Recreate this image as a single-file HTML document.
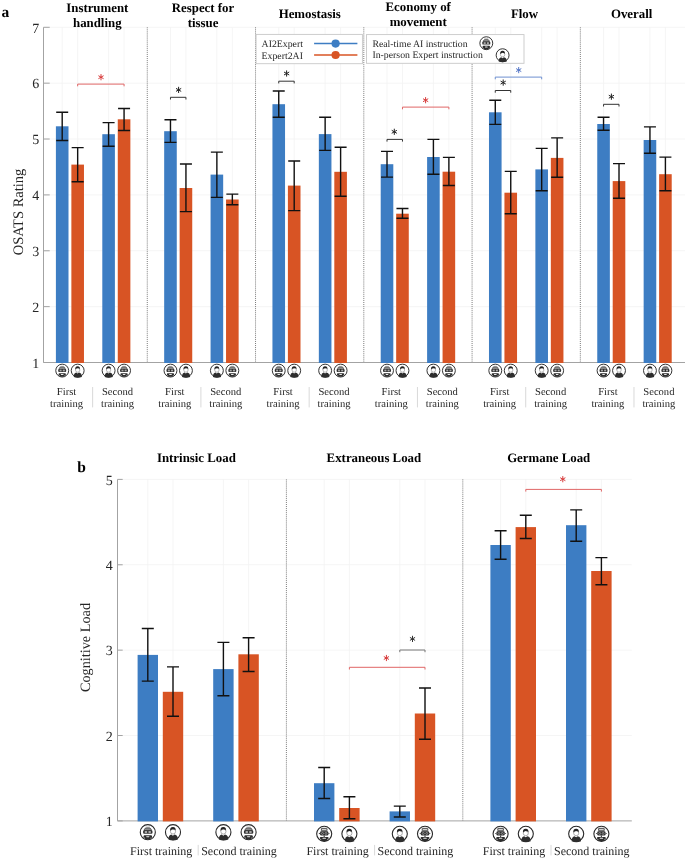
<!DOCTYPE html>
<html><head><meta charset="utf-8"><title>Figure</title>
<style>html,body{margin:0;padding:0;background:#fff;width:685px;height:860px;overflow:hidden}svg{display:block;will-change:transform}text{font-family:"Liberation Serif",serif;text-rendering:geometricPrecision}</style>
</head><body>
<svg width="685" height="860" viewBox="0 0 685 860" font-family="Liberation Serif, serif">
<defs>
<symbol id="robot" viewBox="-8 -8 16 16">
 <circle cx="0" cy="0" r="6.45" fill="#fff" stroke="#2a2a2a" stroke-width="0.95"/>
 <rect x="-1.9" y="-4.7" width="3.8" height="0.7" fill="#9a9a9a"/>
 <path d="M-2.9 -1.0 V-2.5 Q-2.9 -3.7 0 -3.7 Q2.9 -3.7 2.9 -2.5 V-1.0 Z" fill="#8a8a8a" stroke="#333" stroke-width="0.6"/>
 <rect x="-4.0" y="-1.6" width="8.0" height="3.0" rx="0.9" fill="#303030"/>
 <rect x="-2.6" y="-1.0" width="2.0" height="1.8" fill="#a8a8a8"/>
 <rect x="0.6" y="-1.0" width="2.0" height="1.8" fill="#a8a8a8"/>
 <path d="M-3.6 5.5 V3.4 Q-3.6 2.6 -2.8 2.6 H2.8 Q3.6 2.6 3.6 3.4 V5.5 Q0 6.9 -3.6 5.5Z" fill="#2d2d2d"/>
 <rect x="-1.35" y="3.4" width="2.7" height="0.95" rx="0.35" fill="#e8e8e8"/>
 <circle cx="-2.75" cy="4.95" r="0.45" fill="#ddd"/>
 <circle cx="2.75" cy="4.95" r="0.45" fill="#ddd"/>
</symbol>
<symbol id="robot2" viewBox="-8 -8 16 16">
 <circle cx="0" cy="0" r="6.45" fill="#fff" stroke="#2a2a2a" stroke-width="0.95"/>
 <rect x="-2.4" y="-4.7" width="4.8" height="2.1" rx="0.3" fill="#d0d0d0" stroke="#2a2a2a" stroke-width="0.7"/>
 <path d="M-4.9 -0.3 L-3.6 -1.0 V0.4 Z M4.9 -0.3 L3.6 -1.0 V0.4 Z" fill="#333"/>
 <rect x="-3.5" y="-2.2" width="7.0" height="3.6" rx="1.0" fill="#2e2e2e"/>
 <circle cx="-1.45" cy="-0.35" r="0.85" fill="none" stroke="#bbb" stroke-width="0.5"/>
 <circle cx="1.5" cy="-0.35" r="0.85" fill="none" stroke="#bbb" stroke-width="0.5"/>
 <rect x="-0.5" y="1.3" width="1.0" height="1.4" fill="#444"/>
 <path d="M-3.7 5.6 V3.3 Q-3.7 2.6 -3.0 2.6 H3.0 Q3.7 2.6 3.7 3.3 V5.6 Q0 7.0 -3.7 5.6Z" fill="#2d2d2d"/>
 <rect x="-1.5" y="3.4" width="3.0" height="0.85" rx="0.35" fill="#e8e8e8"/>
 <circle cx="-3.0" cy="4.7" r="0.45" fill="#ddd"/>
 <circle cx="3.0" cy="4.7" r="0.45" fill="#ddd"/>
</symbol>
<symbol id="person" viewBox="-8 -8 16 16">
 <circle cx="0" cy="0" r="6.45" fill="#fff" stroke="#2a2a2a" stroke-width="0.95"/>
 <path d="M-3.9 6.3 Q-3.9 2.4 -1.4 2.0 L-0.1 3.0 L1.3 2.0 Q4.2 2.4 4.2 6.3 Q0 7.9 -3.9 6.3Z" fill="#2d2d2d"/>
 <ellipse cx="0" cy="-0.6" rx="2.2" ry="2.2" fill="#fff" stroke="#666" stroke-width="0.45"/>
 <path d="M-2.4 -0.9 Q-2.9 -4.5 0 -4.45 Q2.6 -4.45 2.3 -1.2 Q1.9 -2.4 0.7 -2.3 Q-0.5 -2.7 -1.4 -2.0 Q-2.0 -1.6 -2.4 -0.9Z" fill="#232323"/>
</symbol>
</defs>
<rect width="685" height="860" fill="#fff"/>
<line x1="43.5" y1="306.63" x2="685" y2="306.63" stroke="#f2f2f2" stroke-width="0.8"/>
<line x1="43.5" y1="250.77" x2="685" y2="250.77" stroke="#f2f2f2" stroke-width="0.8"/>
<line x1="43.5" y1="194.9" x2="685" y2="194.9" stroke="#f2f2f2" stroke-width="0.8"/>
<line x1="43.5" y1="139.03" x2="685" y2="139.03" stroke="#f2f2f2" stroke-width="0.8"/>
<line x1="43.5" y1="83.17" x2="685" y2="83.17" stroke="#f2f2f2" stroke-width="0.8"/>
<line x1="43.5" y1="27.3" x2="685" y2="27.3" stroke="#f2f2f2" stroke-width="0.8"/>
<line x1="62.2" y1="27.3" x2="62.2" y2="362.5" stroke="#f2f2f2" stroke-width="0.8"/>
<line x1="77.67" y1="27.3" x2="77.67" y2="362.5" stroke="#f2f2f2" stroke-width="0.8"/>
<line x1="108.6" y1="27.3" x2="108.6" y2="362.5" stroke="#f2f2f2" stroke-width="0.8"/>
<line x1="124.07" y1="27.3" x2="124.07" y2="362.5" stroke="#f2f2f2" stroke-width="0.8"/>
<line x1="170.47" y1="27.3" x2="170.47" y2="362.5" stroke="#f2f2f2" stroke-width="0.8"/>
<line x1="185.94" y1="27.3" x2="185.94" y2="362.5" stroke="#f2f2f2" stroke-width="0.8"/>
<line x1="216.87" y1="27.3" x2="216.87" y2="362.5" stroke="#f2f2f2" stroke-width="0.8"/>
<line x1="232.34" y1="27.3" x2="232.34" y2="362.5" stroke="#f2f2f2" stroke-width="0.8"/>
<line x1="278.74" y1="27.3" x2="278.74" y2="362.5" stroke="#f2f2f2" stroke-width="0.8"/>
<line x1="294.2" y1="27.3" x2="294.2" y2="362.5" stroke="#f2f2f2" stroke-width="0.8"/>
<line x1="325.14" y1="27.3" x2="325.14" y2="362.5" stroke="#f2f2f2" stroke-width="0.8"/>
<line x1="340.61" y1="27.3" x2="340.61" y2="362.5" stroke="#f2f2f2" stroke-width="0.8"/>
<line x1="387.01" y1="27.3" x2="387.01" y2="362.5" stroke="#f2f2f2" stroke-width="0.8"/>
<line x1="402.47" y1="27.3" x2="402.47" y2="362.5" stroke="#f2f2f2" stroke-width="0.8"/>
<line x1="433.41" y1="27.3" x2="433.41" y2="362.5" stroke="#f2f2f2" stroke-width="0.8"/>
<line x1="448.88" y1="27.3" x2="448.88" y2="362.5" stroke="#f2f2f2" stroke-width="0.8"/>
<line x1="495.28" y1="27.3" x2="495.28" y2="362.5" stroke="#f2f2f2" stroke-width="0.8"/>
<line x1="510.74" y1="27.3" x2="510.74" y2="362.5" stroke="#f2f2f2" stroke-width="0.8"/>
<line x1="541.68" y1="27.3" x2="541.68" y2="362.5" stroke="#f2f2f2" stroke-width="0.8"/>
<line x1="557.14" y1="27.3" x2="557.14" y2="362.5" stroke="#f2f2f2" stroke-width="0.8"/>
<line x1="603.55" y1="27.3" x2="603.55" y2="362.5" stroke="#f2f2f2" stroke-width="0.8"/>
<line x1="619.01" y1="27.3" x2="619.01" y2="362.5" stroke="#f2f2f2" stroke-width="0.8"/>
<line x1="649.95" y1="27.3" x2="649.95" y2="362.5" stroke="#f2f2f2" stroke-width="0.8"/>
<line x1="665.41" y1="27.3" x2="665.41" y2="362.5" stroke="#f2f2f2" stroke-width="0.8"/>
<line x1="147.27" y1="27.3" x2="147.27" y2="362.5" stroke="#7a7a7a" stroke-width="1" stroke-dasharray="1 1.05"/>
<line x1="255.54" y1="27.3" x2="255.54" y2="362.5" stroke="#7a7a7a" stroke-width="1" stroke-dasharray="1 1.05"/>
<line x1="363.81" y1="27.3" x2="363.81" y2="362.5" stroke="#7a7a7a" stroke-width="1" stroke-dasharray="1 1.05"/>
<line x1="472.08" y1="27.3" x2="472.08" y2="362.5" stroke="#7a7a7a" stroke-width="1" stroke-dasharray="1 1.05"/>
<line x1="580.34" y1="27.3" x2="580.34" y2="362.5" stroke="#7a7a7a" stroke-width="1" stroke-dasharray="1 1.05"/>
<path d="M43.5 27.3V362.5H685" stroke="#a3a3a3" stroke-width="1" fill="none"/>
<rect x="55.9" y="126.3" width="12.6" height="236.7" fill="#3D7DC3"/>
<rect x="71.37" y="164.6" width="12.6" height="198.4" fill="#D85424"/>
<rect x="102.3" y="134.2" width="12.6" height="228.8" fill="#3D7DC3"/>
<rect x="117.77" y="119.3" width="12.6" height="243.7" fill="#D85424"/>
<rect x="164.17" y="131.2" width="12.6" height="231.8" fill="#3D7DC3"/>
<rect x="179.64" y="188" width="12.6" height="175" fill="#D85424"/>
<rect x="210.57" y="174.6" width="12.6" height="188.4" fill="#3D7DC3"/>
<rect x="226.04" y="199.5" width="12.6" height="163.5" fill="#D85424"/>
<rect x="272.44" y="104.2" width="12.6" height="258.8" fill="#3D7DC3"/>
<rect x="287.9" y="185.6" width="12.6" height="177.4" fill="#D85424"/>
<rect x="318.84" y="134.1" width="12.6" height="228.9" fill="#3D7DC3"/>
<rect x="334.31" y="171.8" width="12.6" height="191.2" fill="#D85424"/>
<rect x="380.71" y="164.2" width="12.6" height="198.8" fill="#3D7DC3"/>
<rect x="396.17" y="213.7" width="12.6" height="149.3" fill="#D85424"/>
<rect x="427.11" y="157" width="12.6" height="206" fill="#3D7DC3"/>
<rect x="442.57" y="171.7" width="12.6" height="191.3" fill="#D85424"/>
<rect x="488.98" y="112.3" width="12.6" height="250.7" fill="#3D7DC3"/>
<rect x="504.44" y="192.7" width="12.6" height="170.3" fill="#D85424"/>
<rect x="535.38" y="169.4" width="12.6" height="193.6" fill="#3D7DC3"/>
<rect x="550.84" y="157.9" width="12.6" height="205.1" fill="#D85424"/>
<rect x="597.25" y="124" width="12.6" height="239" fill="#3D7DC3"/>
<rect x="612.71" y="181.1" width="12.6" height="181.9" fill="#D85424"/>
<rect x="643.65" y="140" width="12.6" height="223" fill="#3D7DC3"/>
<rect x="659.11" y="174.2" width="12.6" height="188.8" fill="#D85424"/>
<path d="M62.2 112.2V140.5M56.2 112.2H68.2M56.2 140.5H68.2" stroke="#111" stroke-width="1.4" fill="none"/>
<path d="M77.67 147.6V181.7M71.67 147.6H83.67M71.67 181.7H83.67" stroke="#111" stroke-width="1.4" fill="none"/>
<path d="M108.6 122.6V146.2M102.6 122.6H114.6M102.6 146.2H114.6" stroke="#111" stroke-width="1.4" fill="none"/>
<path d="M124.07 108.5V130.5M118.07 108.5H130.07M118.07 130.5H130.07" stroke="#111" stroke-width="1.4" fill="none"/>
<path d="M170.47 119.7V142.4M164.47 119.7H176.47M164.47 142.4H176.47" stroke="#111" stroke-width="1.4" fill="none"/>
<path d="M185.94 164V211.6M179.94 164H191.94M179.94 211.6H191.94" stroke="#111" stroke-width="1.4" fill="none"/>
<path d="M216.87 152.1V197.4M210.87 152.1H222.87M210.87 197.4H222.87" stroke="#111" stroke-width="1.4" fill="none"/>
<path d="M232.34 194.1V204.8M226.34 194.1H238.34M226.34 204.8H238.34" stroke="#111" stroke-width="1.4" fill="none"/>
<path d="M278.74 91V117.3M272.74 91H284.74M272.74 117.3H284.74" stroke="#111" stroke-width="1.4" fill="none"/>
<path d="M294.2 161V210.6M288.2 161H300.2M288.2 210.6H300.2" stroke="#111" stroke-width="1.4" fill="none"/>
<path d="M325.14 117.3V150.4M319.14 117.3H331.14M319.14 150.4H331.14" stroke="#111" stroke-width="1.4" fill="none"/>
<path d="M340.61 147.2V196.2M334.61 147.2H346.61M334.61 196.2H346.61" stroke="#111" stroke-width="1.4" fill="none"/>
<path d="M387.01 151.4V177.1M381.01 151.4H393.01M381.01 177.1H393.01" stroke="#111" stroke-width="1.4" fill="none"/>
<path d="M402.47 208.5V218.3M396.47 208.5H408.47M396.47 218.3H408.47" stroke="#111" stroke-width="1.4" fill="none"/>
<path d="M433.41 139.4V174.2M427.41 139.4H439.41M427.41 174.2H439.41" stroke="#111" stroke-width="1.4" fill="none"/>
<path d="M448.88 157.4V185.5M442.88 157.4H454.88M442.88 185.5H454.88" stroke="#111" stroke-width="1.4" fill="none"/>
<path d="M495.28 100.3V124.4M489.28 100.3H501.28M489.28 124.4H501.28" stroke="#111" stroke-width="1.4" fill="none"/>
<path d="M510.74 171.4V213.7M504.74 171.4H516.74M504.74 213.7H516.74" stroke="#111" stroke-width="1.4" fill="none"/>
<path d="M541.68 148.4V190.7M535.68 148.4H547.68M535.68 190.7H547.68" stroke="#111" stroke-width="1.4" fill="none"/>
<path d="M557.14 137.9V177.3M551.14 137.9H563.14M551.14 177.3H563.14" stroke="#111" stroke-width="1.4" fill="none"/>
<path d="M603.55 117.2V130.3M597.55 117.2H609.55M597.55 130.3H609.55" stroke="#111" stroke-width="1.4" fill="none"/>
<path d="M619.01 163.6V198.2M613.01 163.6H625.01M613.01 198.2H625.01" stroke="#111" stroke-width="1.4" fill="none"/>
<path d="M649.95 126.9V153.2M643.95 126.9H655.95M643.95 153.2H655.95" stroke="#111" stroke-width="1.4" fill="none"/>
<path d="M665.41 157.1V190.8M659.41 157.1H671.41M659.41 190.8H671.41" stroke="#111" stroke-width="1.4" fill="none"/>
<path d="M77.67 86.3V84.1H124.07V86.3" stroke="#E06666" stroke-width="1" fill="none"/>
<path d="M101 74.5V79.9M98.75 75.9L103.25 78.5M98.75 78.5L103.25 75.9" stroke="#D83C3C" stroke-width="1.0" stroke-linecap="round" fill="none"/>
<path d="M170.47 99.5V97.3H185.94V99.5" stroke="#333" stroke-width="1" fill="none"/>
<path d="M178.6 87.2V92.6M176.35 88.6L180.85 91.2M176.35 91.2L180.85 88.6" stroke="#222" stroke-width="1.0" stroke-linecap="round" fill="none"/>
<path d="M278.74 83.4V81.2H294.2V83.4" stroke="#333" stroke-width="1" fill="none"/>
<path d="M286.6 70.8V76.2M284.35 72.2L288.85 74.8M284.35 74.8L288.85 72.2" stroke="#222" stroke-width="1.0" stroke-linecap="round" fill="none"/>
<path d="M387.01 141.6V139.4H402.47V141.6" stroke="#333" stroke-width="1" fill="none"/>
<path d="M394.3 129.1V134.5M392.05 130.5L396.55 133.1M392.05 133.1L396.55 130.5" stroke="#222" stroke-width="1.0" stroke-linecap="round" fill="none"/>
<path d="M402.47 109.3V107.1H448.88V109.3" stroke="#E06666" stroke-width="1" fill="none"/>
<path d="M425.6 97.5V102.9M423.35 98.9L427.85 101.5M423.35 101.5L427.85 98.9" stroke="#D83C3C" stroke-width="1.0" stroke-linecap="round" fill="none"/>
<path d="M495.28 92.7V90.5H510.74V92.7" stroke="#333" stroke-width="1" fill="none"/>
<path d="M503.2 79.9V85.3M500.95 81.3L505.45 83.9M500.95 83.9L505.45 81.3" stroke="#222" stroke-width="1.0" stroke-linecap="round" fill="none"/>
<path d="M495.28 79.3V77.1H541.68V79.3" stroke="#6D8FD0" stroke-width="1" fill="none"/>
<path d="M518.7 67.4V72.8M516.45 68.8L520.95 71.4M516.45 71.4L520.95 68.8" stroke="#5577C7" stroke-width="1.0" stroke-linecap="round" fill="none"/>
<path d="M603.55 106.5V104.3H619.01V106.5" stroke="#333" stroke-width="1" fill="none"/>
<path d="M611.4 94V99.4M609.15 95.4L613.65 98M609.15 98L613.65 95.4" stroke="#222" stroke-width="1.0" stroke-linecap="round" fill="none"/>
<line x1="43.5" y1="362.5" x2="49.7" y2="362.5" stroke="#a3a3a3" stroke-width="1"/>
<text x="39.3" y="367.8" font-size="14" fill="#262626" text-anchor="end">1</text>
<line x1="43.5" y1="306.63" x2="49.7" y2="306.63" stroke="#a3a3a3" stroke-width="1"/>
<text x="39.3" y="311.93" font-size="14" fill="#262626" text-anchor="end">2</text>
<line x1="43.5" y1="250.77" x2="49.7" y2="250.77" stroke="#a3a3a3" stroke-width="1"/>
<text x="39.3" y="256.07" font-size="14" fill="#262626" text-anchor="end">3</text>
<line x1="43.5" y1="194.9" x2="49.7" y2="194.9" stroke="#a3a3a3" stroke-width="1"/>
<text x="39.3" y="200.2" font-size="14" fill="#262626" text-anchor="end">4</text>
<line x1="43.5" y1="139.03" x2="49.7" y2="139.03" stroke="#a3a3a3" stroke-width="1"/>
<text x="39.3" y="144.33" font-size="14" fill="#262626" text-anchor="end">5</text>
<line x1="43.5" y1="83.17" x2="49.7" y2="83.17" stroke="#a3a3a3" stroke-width="1"/>
<text x="39.3" y="88.47" font-size="14" fill="#262626" text-anchor="end">6</text>
<line x1="43.5" y1="27.3" x2="49.7" y2="27.3" stroke="#a3a3a3" stroke-width="1"/>
<text x="39.3" y="32.6" font-size="14" fill="#262626" text-anchor="end">7</text>
<text transform="translate(22.8 212) rotate(-90)" font-size="14.5" fill="#262626" text-anchor="middle">OSATS Rating</text>
<text x="1.5" y="17" font-size="15.5" font-weight="bold" fill="#000">a</text>
<text x="97.3" y="11.7" font-size="12.85" font-weight="bold" fill="#000" text-anchor="middle">Instrument</text>
<text x="97.3" y="27" font-size="12.85" font-weight="bold" fill="#000" text-anchor="middle">handling</text>
<text x="203" y="11.7" font-size="12.85" font-weight="bold" fill="#000" text-anchor="middle">Respect for</text>
<text x="203" y="27" font-size="12.85" font-weight="bold" fill="#000" text-anchor="middle">tissue</text>
<text x="309.7" y="18.1" font-size="12.85" font-weight="bold" fill="#000" text-anchor="middle">Hemostasis</text>
<text x="418.2" y="11.2" font-size="12.85" font-weight="bold" fill="#000" text-anchor="middle">Economy of</text>
<text x="418.2" y="26.4" font-size="12.85" font-weight="bold" fill="#000" text-anchor="middle">movement</text>
<text x="524.5" y="18.1" font-size="12.85" font-weight="bold" fill="#000" text-anchor="middle">Flow</text>
<text x="631.6" y="18.1" font-size="12.85" font-weight="bold" fill="#000" text-anchor="middle">Overall</text>
<use href="#robot" x="54.2" y="362.6" width="16" height="16"/>
<use href="#person" x="69.67" y="362.6" width="16" height="16"/>
<use href="#person" x="100.6" y="362.6" width="16" height="16"/>
<use href="#robot" x="116.07" y="362.6" width="16" height="16"/>
<text x="66.53" y="394.7" font-size="10.6" fill="#262626" text-anchor="middle">First</text>
<text x="66.53" y="407.4" font-size="10.6" fill="#262626" text-anchor="middle">training</text>
<text x="117.53" y="394.7" font-size="10.6" fill="#262626" text-anchor="middle">Second</text>
<text x="117.53" y="407.4" font-size="10.6" fill="#262626" text-anchor="middle">training</text>
<line x1="92.63" y1="387" x2="92.63" y2="407.4" stroke="#d9d9d9" stroke-width="1"/>
<use href="#robot" x="162.47" y="362.6" width="16" height="16"/>
<use href="#person" x="177.94" y="362.6" width="16" height="16"/>
<use href="#person" x="208.87" y="362.6" width="16" height="16"/>
<use href="#robot" x="224.34" y="362.6" width="16" height="16"/>
<text x="174.8" y="394.7" font-size="10.6" fill="#262626" text-anchor="middle">First</text>
<text x="174.8" y="407.4" font-size="10.6" fill="#262626" text-anchor="middle">training</text>
<text x="225.8" y="394.7" font-size="10.6" fill="#262626" text-anchor="middle">Second</text>
<text x="225.8" y="407.4" font-size="10.6" fill="#262626" text-anchor="middle">training</text>
<line x1="200.9" y1="387" x2="200.9" y2="407.4" stroke="#d9d9d9" stroke-width="1"/>
<use href="#robot" x="270.74" y="362.6" width="16" height="16"/>
<use href="#person" x="286.2" y="362.6" width="16" height="16"/>
<use href="#person" x="317.14" y="362.6" width="16" height="16"/>
<use href="#robot" x="332.61" y="362.6" width="16" height="16"/>
<text x="283.07" y="394.7" font-size="10.6" fill="#262626" text-anchor="middle">First</text>
<text x="283.07" y="407.4" font-size="10.6" fill="#262626" text-anchor="middle">training</text>
<text x="334.07" y="394.7" font-size="10.6" fill="#262626" text-anchor="middle">Second</text>
<text x="334.07" y="407.4" font-size="10.6" fill="#262626" text-anchor="middle">training</text>
<line x1="309.17" y1="387" x2="309.17" y2="407.4" stroke="#d9d9d9" stroke-width="1"/>
<use href="#robot" x="379.01" y="362.6" width="16" height="16"/>
<use href="#person" x="394.47" y="362.6" width="16" height="16"/>
<use href="#person" x="425.41" y="362.6" width="16" height="16"/>
<use href="#robot" x="440.88" y="362.6" width="16" height="16"/>
<text x="391.34" y="394.7" font-size="10.6" fill="#262626" text-anchor="middle">First</text>
<text x="391.34" y="407.4" font-size="10.6" fill="#262626" text-anchor="middle">training</text>
<text x="442.34" y="394.7" font-size="10.6" fill="#262626" text-anchor="middle">Second</text>
<text x="442.34" y="407.4" font-size="10.6" fill="#262626" text-anchor="middle">training</text>
<line x1="417.44" y1="387" x2="417.44" y2="407.4" stroke="#d9d9d9" stroke-width="1"/>
<use href="#robot" x="487.28" y="362.6" width="16" height="16"/>
<use href="#person" x="502.74" y="362.6" width="16" height="16"/>
<use href="#person" x="533.68" y="362.6" width="16" height="16"/>
<use href="#robot" x="549.14" y="362.6" width="16" height="16"/>
<text x="499.61" y="394.7" font-size="10.6" fill="#262626" text-anchor="middle">First</text>
<text x="499.61" y="407.4" font-size="10.6" fill="#262626" text-anchor="middle">training</text>
<text x="550.61" y="394.7" font-size="10.6" fill="#262626" text-anchor="middle">Second</text>
<text x="550.61" y="407.4" font-size="10.6" fill="#262626" text-anchor="middle">training</text>
<line x1="525.71" y1="387" x2="525.71" y2="407.4" stroke="#d9d9d9" stroke-width="1"/>
<use href="#robot" x="595.55" y="362.6" width="16" height="16"/>
<use href="#person" x="611.01" y="362.6" width="16" height="16"/>
<use href="#person" x="641.95" y="362.6" width="16" height="16"/>
<use href="#robot" x="657.41" y="362.6" width="16" height="16"/>
<text x="607.88" y="394.7" font-size="10.6" fill="#262626" text-anchor="middle">First</text>
<text x="607.88" y="407.4" font-size="10.6" fill="#262626" text-anchor="middle">training</text>
<text x="658.88" y="394.7" font-size="10.6" fill="#262626" text-anchor="middle">Second</text>
<text x="658.88" y="407.4" font-size="10.6" fill="#262626" text-anchor="middle">training</text>
<line x1="633.98" y1="387" x2="633.98" y2="407.4" stroke="#d9d9d9" stroke-width="1"/>
<rect x="256.1" y="34.4" width="106.3" height="29.3" fill="#fff" stroke="#c8c8c8" stroke-width="0.9"/>
<text x="261.6" y="47" font-size="9.8" fill="#262626">AI2Expert</text>
<text x="261.6" y="58.5" font-size="9.8" fill="#262626">Expert2AI</text>
<line x1="314.1" y1="43.55" x2="357.4" y2="43.55" stroke="#3D7DC3" stroke-width="1.4"/>
<circle cx="335.6" cy="43.55" r="4.1" fill="#3D7DC3"/>
<line x1="314.1" y1="55.0" x2="357.4" y2="55.0" stroke="#D85424" stroke-width="1.4"/>
<circle cx="335.6" cy="55.0" r="4.1" fill="#D85424"/>
<rect x="366.5" y="34.6" width="157.5" height="28.7" fill="#fff" stroke="#c8c8c8" stroke-width="0.9"/>
<text x="372.4" y="46.6" font-size="9.8" fill="#262626">Real-time AI instruction</text>
<text x="372.4" y="58.2" font-size="9.8" fill="#262626">In-person Expert instruction</text>
<use href="#robot" x="478.3" y="35.2" width="16" height="16"/>
<use href="#person" x="494.6" y="47.2" width="16" height="16"/>
<line x1="117.5" y1="735.52" x2="631.8" y2="735.52" stroke="#f2f2f2" stroke-width="0.8"/>
<line x1="117.5" y1="650.15" x2="631.8" y2="650.15" stroke="#f2f2f2" stroke-width="0.8"/>
<line x1="117.5" y1="564.77" x2="631.8" y2="564.77" stroke="#f2f2f2" stroke-width="0.8"/>
<line x1="117.5" y1="479.4" x2="631.8" y2="479.4" stroke="#f2f2f2" stroke-width="0.8"/>
<line x1="147.8" y1="479.4" x2="147.8" y2="820.9" stroke="#f2f2f2" stroke-width="0.8"/>
<line x1="173" y1="479.4" x2="173" y2="820.9" stroke="#f2f2f2" stroke-width="0.8"/>
<line x1="223.4" y1="479.4" x2="223.4" y2="820.9" stroke="#f2f2f2" stroke-width="0.8"/>
<line x1="248.6" y1="479.4" x2="248.6" y2="820.9" stroke="#f2f2f2" stroke-width="0.8"/>
<line x1="324.2" y1="479.4" x2="324.2" y2="820.9" stroke="#f2f2f2" stroke-width="0.8"/>
<line x1="349.4" y1="479.4" x2="349.4" y2="820.9" stroke="#f2f2f2" stroke-width="0.8"/>
<line x1="399.8" y1="479.4" x2="399.8" y2="820.9" stroke="#f2f2f2" stroke-width="0.8"/>
<line x1="425" y1="479.4" x2="425" y2="820.9" stroke="#f2f2f2" stroke-width="0.8"/>
<line x1="500.6" y1="479.4" x2="500.6" y2="820.9" stroke="#f2f2f2" stroke-width="0.8"/>
<line x1="525.8" y1="479.4" x2="525.8" y2="820.9" stroke="#f2f2f2" stroke-width="0.8"/>
<line x1="576.2" y1="479.4" x2="576.2" y2="820.9" stroke="#f2f2f2" stroke-width="0.8"/>
<line x1="601.4" y1="479.4" x2="601.4" y2="820.9" stroke="#f2f2f2" stroke-width="0.8"/>
<line x1="286.4" y1="479.4" x2="286.4" y2="820.9" stroke="#7a7a7a" stroke-width="1" stroke-dasharray="1 1.05"/>
<line x1="462.8" y1="479.4" x2="462.8" y2="820.9" stroke="#7a7a7a" stroke-width="1" stroke-dasharray="1 1.05"/>
<path d="M117.5 479.4V820.9H631.8" stroke="#a3a3a3" stroke-width="1" fill="none"/>
<rect x="137.6" y="654.9" width="20.4" height="166.5" fill="#3D7DC3"/>
<rect x="162.8" y="691.8" width="20.4" height="129.6" fill="#D85424"/>
<rect x="213.2" y="669.1" width="20.4" height="152.3" fill="#3D7DC3"/>
<rect x="238.4" y="654.3" width="20.4" height="167.1" fill="#D85424"/>
<rect x="314" y="783.2" width="20.4" height="38.2" fill="#3D7DC3"/>
<rect x="339.2" y="808" width="20.4" height="13.4" fill="#D85424"/>
<rect x="389.6" y="811.4" width="20.4" height="10" fill="#3D7DC3"/>
<rect x="414.8" y="713.5" width="20.4" height="107.9" fill="#D85424"/>
<rect x="490.4" y="545" width="20.4" height="276.4" fill="#3D7DC3"/>
<rect x="515.6" y="527.1" width="20.4" height="294.3" fill="#D85424"/>
<rect x="566" y="525.2" width="20.4" height="296.2" fill="#3D7DC3"/>
<rect x="591.2" y="571" width="20.4" height="250.4" fill="#D85424"/>
<path d="M147.8 628.5V681.1M141.8 628.5H153.8M141.8 681.1H153.8" stroke="#111" stroke-width="1.4" fill="none"/>
<path d="M173 666.9V716.2M167 666.9H179M167 716.2H179" stroke="#111" stroke-width="1.4" fill="none"/>
<path d="M223.4 642.4V695.8M217.4 642.4H229.4M217.4 695.8H229.4" stroke="#111" stroke-width="1.4" fill="none"/>
<path d="M248.6 637.8V671.5M242.6 637.8H254.6M242.6 671.5H254.6" stroke="#111" stroke-width="1.4" fill="none"/>
<path d="M324.2 767.5V798.5M318.2 767.5H330.2M318.2 798.5H330.2" stroke="#111" stroke-width="1.4" fill="none"/>
<path d="M349.4 796.8V818.8M343.4 796.8H355.4M343.4 818.8H355.4" stroke="#111" stroke-width="1.4" fill="none"/>
<path d="M399.8 806.1V817M393.8 806.1H405.8M393.8 817H405.8" stroke="#111" stroke-width="1.4" fill="none"/>
<path d="M425 688V739.3M419 688H431M419 739.3H431" stroke="#111" stroke-width="1.4" fill="none"/>
<path d="M500.6 530.7V559.3M494.6 530.7H506.6M494.6 559.3H506.6" stroke="#111" stroke-width="1.4" fill="none"/>
<path d="M525.8 515.3V538.5M519.8 515.3H531.8M519.8 538.5H531.8" stroke="#111" stroke-width="1.4" fill="none"/>
<path d="M576.2 509.9V541.2M570.2 509.9H582.2M570.2 541.2H582.2" stroke="#111" stroke-width="1.4" fill="none"/>
<path d="M601.4 557.6V584.7M595.4 557.6H607.4M595.4 584.7H607.4" stroke="#111" stroke-width="1.4" fill="none"/>
<path d="M399.8 652.2V650H425V652.2" stroke="#777" stroke-width="1" fill="none"/>
<path d="M412.5 636.2V641.6M410.25 637.6L414.75 640.2M410.25 640.2L414.75 637.6" stroke="#333" stroke-width="1.0" stroke-linecap="round" fill="none"/>
<path d="M349.4 669.5V667.3H425V669.5" stroke="#E06666" stroke-width="1" fill="none"/>
<path d="M386.4 655.3V660.7M384.15 656.7L388.65 659.3M384.15 659.3L388.65 656.7" stroke="#D83C3C" stroke-width="1.0" stroke-linecap="round" fill="none"/>
<path d="M525.8 491.6V489.4H601.4V491.6" stroke="#E06666" stroke-width="1" fill="none"/>
<path d="M562.8 476.5V481.9M560.55 477.9L565.05 480.5M560.55 480.5L565.05 477.9" stroke="#D83C3C" stroke-width="1.0" stroke-linecap="round" fill="none"/>
<line x1="117.5" y1="820.9" x2="122.7" y2="820.9" stroke="#a3a3a3" stroke-width="1"/>
<text x="112.8" y="826" font-size="14" fill="#262626" text-anchor="end">1</text>
<line x1="117.5" y1="735.52" x2="122.7" y2="735.52" stroke="#a3a3a3" stroke-width="1"/>
<text x="112.8" y="740.62" font-size="14" fill="#262626" text-anchor="end">2</text>
<line x1="117.5" y1="650.15" x2="122.7" y2="650.15" stroke="#a3a3a3" stroke-width="1"/>
<text x="112.8" y="655.25" font-size="14" fill="#262626" text-anchor="end">3</text>
<line x1="117.5" y1="564.77" x2="122.7" y2="564.77" stroke="#a3a3a3" stroke-width="1"/>
<text x="112.8" y="569.88" font-size="14" fill="#262626" text-anchor="end">4</text>
<line x1="117.5" y1="479.4" x2="122.7" y2="479.4" stroke="#a3a3a3" stroke-width="1"/>
<text x="112.8" y="484.5" font-size="14" fill="#262626" text-anchor="end">5</text>
<text transform="translate(90.3 647.5) rotate(-90)" font-size="14.25" fill="#262626" text-anchor="middle">Cognitive Load</text>
<text x="77.2" y="471.8" font-size="15.5" font-weight="bold" fill="#000">b</text>
<text x="196.4" y="462.4" font-size="12.85" font-weight="bold" fill="#000" text-anchor="middle">Intrinsic Load</text>
<text x="373.9" y="462.4" font-size="12.85" font-weight="bold" fill="#000" text-anchor="middle">Extraneous Load</text>
<text x="548.7" y="462.4" font-size="12.85" font-weight="bold" fill="#000" text-anchor="middle">Germane Load</text>
<use href="#robot" x="138.45" y="822.85" width="18.7" height="18.7"/>
<use href="#person" x="163.65" y="822.85" width="18.7" height="18.7"/>
<use href="#person" x="214.05" y="822.85" width="18.7" height="18.7"/>
<use href="#robot" x="239.25" y="822.85" width="18.7" height="18.7"/>
<text x="161.2" y="854.6" font-size="12" fill="#262626" text-anchor="middle">First training</text>
<text x="239" y="854.6" font-size="12" fill="#262626" text-anchor="middle">Second training</text>
<line x1="198.2" y1="844.9" x2="198.2" y2="855.4" stroke="#d9d9d9" stroke-width="1"/>
<use href="#robot2" x="314.85" y="824.5" width="18.7" height="18.7"/>
<use href="#person" x="340.05" y="824.5" width="18.7" height="18.7"/>
<use href="#person" x="390.45" y="824.5" width="18.7" height="18.7"/>
<use href="#robot2" x="415.65" y="824.5" width="18.7" height="18.7"/>
<text x="337.6" y="854.6" font-size="12" fill="#262626" text-anchor="middle">First training</text>
<text x="415.4" y="854.6" font-size="12" fill="#262626" text-anchor="middle">Second training</text>
<line x1="374.6" y1="844.9" x2="374.6" y2="855.4" stroke="#d9d9d9" stroke-width="1"/>
<use href="#robot2" x="491.25" y="824.5" width="18.7" height="18.7"/>
<use href="#person" x="516.45" y="824.5" width="18.7" height="18.7"/>
<use href="#person" x="566.85" y="824.5" width="18.7" height="18.7"/>
<use href="#robot2" x="592.05" y="824.5" width="18.7" height="18.7"/>
<text x="514" y="854.6" font-size="12" fill="#262626" text-anchor="middle">First training</text>
<text x="591.8" y="854.6" font-size="12" fill="#262626" text-anchor="middle">Second training</text>
<line x1="551" y1="844.9" x2="551" y2="855.4" stroke="#d9d9d9" stroke-width="1"/>
</svg>
</body></html>
